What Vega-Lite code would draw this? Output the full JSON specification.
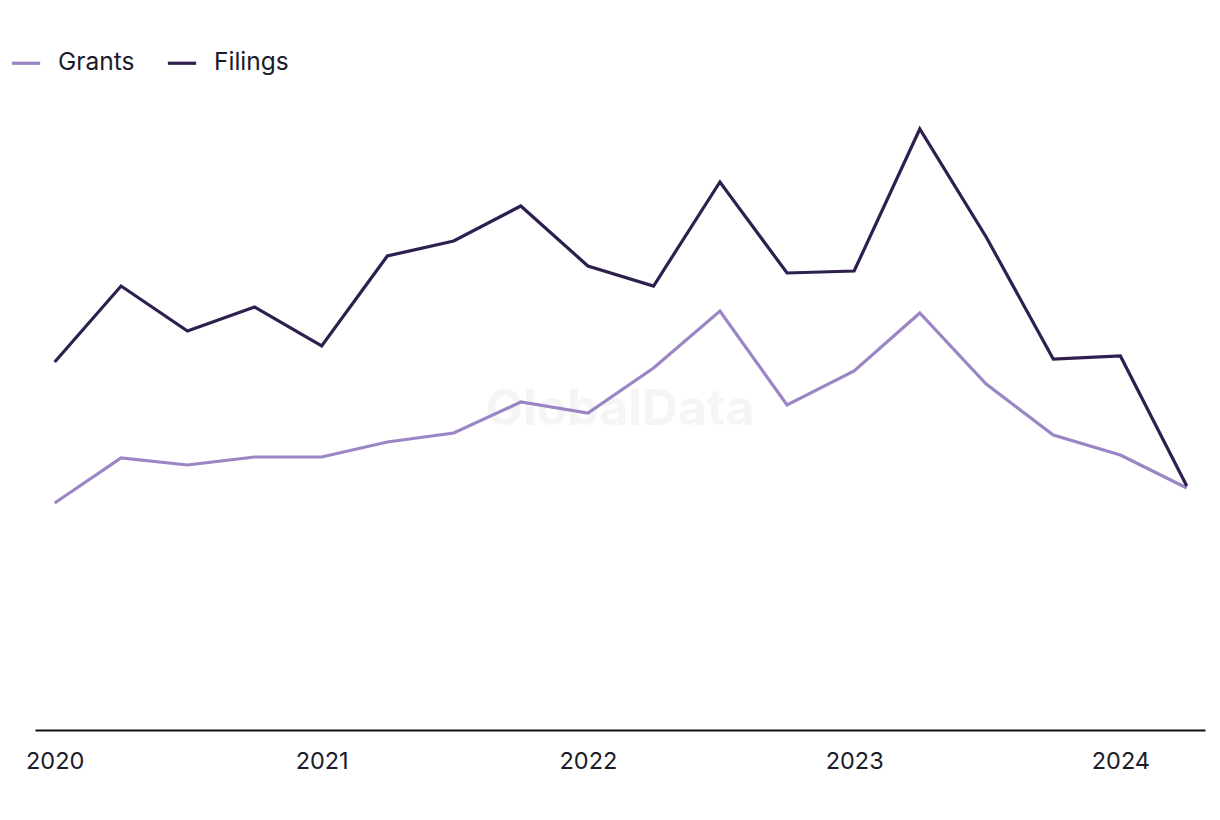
{
  "$schema": "https://vega.github.io/schema/vega-lite/v6.json",
  "width": 1170,
  "height": 630,
  "autosize": {"type": "none"},
  "padding": {"left": 35, "top": 100, "right": 15, "bottom": 90},
  "background": "white",
  "config": {
    "view": {"stroke": null},
    "font": "Inter"
  },
  "layer": [
    {
      "data": {"values": [{"t": "GlobalData"}]},
      "mark": {"type": "text", "font": "Inter", "fontWeight": "bold", "fontSize": 50, "color": "#f5f5f5", "align": "center", "baseline": "middle", "dy": -5},
      "encoding": {"text": {"field": "t"}}
    },
    {
      "data": {
        "values": [
          {"date": "2020-01-01", "series": "Grants", "value": 227},
          {"date": "2020-04-01", "series": "Grants", "value": 272},
          {"date": "2020-07-01", "series": "Grants", "value": 265},
          {"date": "2020-10-01", "series": "Grants", "value": 273},
          {"date": "2021-01-01", "series": "Grants", "value": 273},
          {"date": "2021-04-01", "series": "Grants", "value": 288},
          {"date": "2021-07-01", "series": "Grants", "value": 297},
          {"date": "2021-10-01", "series": "Grants", "value": 328},
          {"date": "2022-01-01", "series": "Grants", "value": 317},
          {"date": "2022-04-01", "series": "Grants", "value": 362},
          {"date": "2022-07-01", "series": "Grants", "value": 419},
          {"date": "2022-10-01", "series": "Grants", "value": 325},
          {"date": "2023-01-01", "series": "Grants", "value": 359},
          {"date": "2023-04-01", "series": "Grants", "value": 417},
          {"date": "2023-07-01", "series": "Grants", "value": 346},
          {"date": "2023-10-01", "series": "Grants", "value": 295},
          {"date": "2024-01-01", "series": "Grants", "value": 275},
          {"date": "2024-04-01", "series": "Grants", "value": 242},
          {"date": "2020-01-01", "series": "Filings", "value": 368},
          {"date": "2020-04-01", "series": "Filings", "value": 444},
          {"date": "2020-07-01", "series": "Filings", "value": 399},
          {"date": "2020-10-01", "series": "Filings", "value": 423},
          {"date": "2021-01-01", "series": "Filings", "value": 384},
          {"date": "2021-04-01", "series": "Filings", "value": 474},
          {"date": "2021-07-01", "series": "Filings", "value": 489},
          {"date": "2021-10-01", "series": "Filings", "value": 524},
          {"date": "2022-01-01", "series": "Filings", "value": 464},
          {"date": "2022-04-01", "series": "Filings", "value": 444},
          {"date": "2022-07-01", "series": "Filings", "value": 548},
          {"date": "2022-10-01", "series": "Filings", "value": 457},
          {"date": "2023-01-01", "series": "Filings", "value": 459},
          {"date": "2023-04-01", "series": "Filings", "value": 601},
          {"date": "2023-07-01", "series": "Filings", "value": 493},
          {"date": "2023-10-01", "series": "Filings", "value": 371},
          {"date": "2024-01-01", "series": "Filings", "value": 374},
          {"date": "2024-04-01", "series": "Filings", "value": 244}
        ]
      },
      "mark": {"type": "line", "strokeWidth": 3.2},
      "encoding": {
        "x": {
          "field": "date",
          "type": "temporal",
          "scale": {"domain": ["2019-12-05", "2024-04-26"]},
          "axis": {
            "title": null,
            "format": "%Y",
            "tickCount": "year",
            "grid": false,
            "ticks": false,
            "domainColor": "#111111",
            "domainWidth": 2,
            "labelFont": "Inter",
            "labelFontSize": 23.5,
            "labelColor": "#1b1b2b",
            "labelPadding": 19,
            "labelFlush": false
          }
        },
        "y": {
          "field": "value",
          "type": "quantitative",
          "scale": {"domain": [0, 630], "nice": false},
          "axis": null
        },
        "color": {
          "field": "series",
          "type": "nominal",
          "scale": {"domain": ["Grants", "Filings"], "range": ["#9b85c4", "#2e1f4f"]},
          "legend": {
            "title": null,
            "orient": "none",
            "legendX": -25,
            "legendY": -53,
            "direction": "horizontal",
            "symbolType": "stroke",
            "symbolStrokeWidth": 3.2,
            "symbolSize": 800,
            "labelFont": "Inter",
            "labelFontSize": 24.5,
            "labelColor": "#1b1b2b",
            "labelOffset": 16,
            "columnPadding": 26
          }
        }
      }
    }
  ]
}
